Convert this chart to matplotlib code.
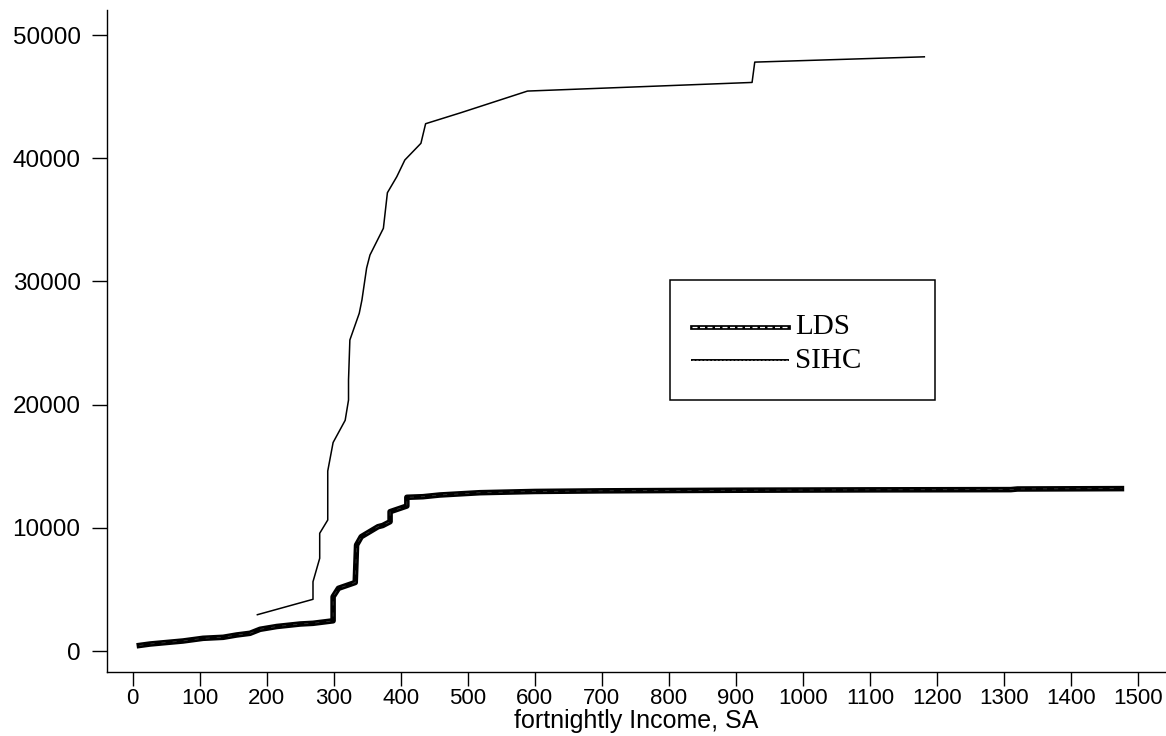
import matplotlib
matplotlib.use("Agg")
import matplotlib.pyplot as plt
from matplotlib.patches import Rectangle
from matplotlib.lines import Line2D

# cumulative totals against fortnightly income
lds_income = [10, 26, 75, 105, 135, 155, 175, 190, 215, 250, 269, 299, 299, 307,
              332, 334, 341, 366, 373, 384, 384, 409, 409, 433, 458, 518, 600,
              700, 900, 1100, 1310, 1320, 1475]
lds_total = [450, 568, 812, 1031, 1112, 1299, 1437, 1761, 1989, 2192, 2248, 2451,
             4407, 5089, 5560, 8604, 9278, 10089, 10187, 10495, 11307, 11769,
             12476, 12524, 12662, 12849, 12950, 13000, 13050, 13080, 13100,
             13150, 13180]

sihc_income = [186, 269, 269, 279, 279, 291, 291, 299, 317, 322, 322, 324, 338,
               342, 349, 354, 374, 380, 394, 406, 430, 437, 490, 589, 924, 928,
               1181]
sihc_total = [2946, 4196, 5625, 7524, 9554, 10633, 14610, 16924, 18726, 20373,
              21997, 25244, 27411, 28490, 31088, 32143, 34310, 37200, 38498,
              39854, 41209, 42800, 43700, 45450, 46150, 47800, 48230]

xticks = list(range(0, 1501, 100))
yticks = [0, 10000, 20000, 30000, 40000, 50000]

W, H = 1166, 736
fig = plt.figure(figsize=(W / 100, H / 100), dpi=100)
ax = fig.add_axes([107 / W, (H - 671.7) / H, 1059 / W, 661.7 / H])

# LDS: heavy double line
ax.plot(lds_income, lds_total, color="black", lw=4.0, solid_joinstyle="round")
ax.plot(lds_income, lds_total, color="white", lw=0.5, alpha=0.25, ls=(0, (6, 10)))
# SIHC: thin line
ax.plot(sihc_income, sihc_total, color="black", lw=1.1)

ax.set_xlim(-38.3, 1541.5)
ax.set_ylim(-1680, 52030)
ax.set_xticks(xticks)
ax.set_yticks(yticks)

sans = "Liberation Sans"
ax.set_xticklabels([str(t) for t in xticks], fontsize=16, family=sans)
ax.set_yticklabels([str(t) for t in yticks], fontsize=17.5, family=sans)
ax.tick_params(axis="x", length=10, width=1, pad=2)
ax.tick_params(axis="y", length=11, width=1, pad=8)
ax.set_xlabel("fortnightly Income, SA", fontsize=18, family=sans, labelpad=0)

for side in ["top", "right"]:
    ax.spines[side].set_visible(False)
for side in ["left", "bottom"]:
    ax.spines[side].set_linewidth(1.0)


# legend box drawn in pixel terms of the axes
def axf(px, py):
    return ((px - 107) / 1059, (671.7 - py) / 661.7)


x0, y0 = axf(670, 400)
x1, y1 = axf(935, 280)
ax.add_patch(Rectangle((x0, y0), x1 - x0, y1 - y0, transform=ax.transAxes,
                       fill=False, edgecolor="black", lw=1.1, clip_on=False))

lx0, ly_lds = axf(691.7, 327.3)
lx1, ly_sihc = axf(788.3, 360)
ax.add_line(Line2D([lx0, lx1], [ly_lds, ly_lds], transform=ax.transAxes,
                   color="black", lw=3.4))
ax.add_line(Line2D([lx0, lx1], [ly_lds, ly_lds], transform=ax.transAxes,
                   color="white", lw=0.9, ls=(0, (4, 2))))
ax.add_line(Line2D([lx0, lx1], [ly_sihc, ly_sihc], transform=ax.transAxes,
                   color="black", lw=1.4))
ax.add_line(Line2D([lx0, lx1], [ly_sihc, ly_sihc], transform=ax.transAxes,
                   color="white", lw=0.4, alpha=0.6, ls=(0, (4, 3))))

tx, _ = axf(795, 0)
_, tb1 = axf(0, 334)
_, tb2 = axf(0, 368.3)
ax.text(tx, tb1, "LDS", transform=ax.transAxes, fontsize=21,
        family="Liberation Serif", va="baseline", ha="left")
ax.text(tx, tb2, "SIHC", transform=ax.transAxes, fontsize=21,
        family="Liberation Serif", va="baseline", ha="left")

fig.savefig("out.png", dpi=100)
